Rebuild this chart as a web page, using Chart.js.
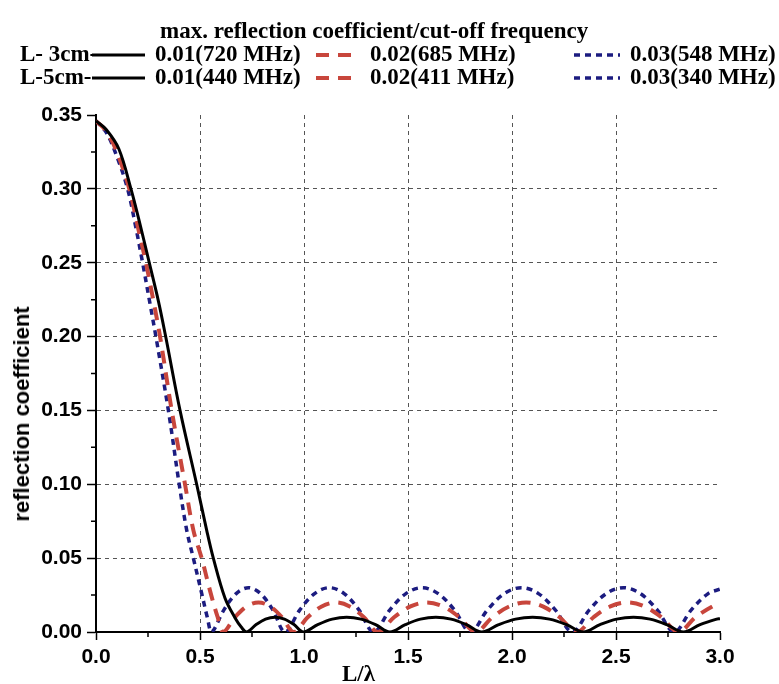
<!DOCTYPE html>
<html>
<head>
<meta charset="utf-8">
<script src="https://cdn.jsdelivr.net/npm/chart.js@4.4.1/dist/chart.umd.min.js"></script>
<style>
  body { margin: 0; background: #fff; }
  #wrap { position: relative; width: 779px; height: 684px; }
  #c { position: absolute; left: 0; top: 0; }
  .hd { position: absolute; font-family: "Liberation Serif", serif; font-weight: bold; font-size: 23px; color: #000; white-space: nowrap; line-height: 24px; }
  .smp { position: absolute; }
  #ytitle { position: absolute; font-family: "Liberation Sans", sans-serif; font-weight: bold; font-size: 22px; line-height: 24px; white-space: nowrap; color: #000;
    left: 22px; top: 414px; transform: translate(-50%, -50%) rotate(-90deg); }
</style>
</head>
<body>
<div id="wrap">
  <canvas id="c" width="779" height="684"></canvas>
</div>
<script>
// curve readings, L/lambda vs reflection coefficient
const solidX = [0, 0.05, 0.11, 0.168, 0.21, 0.256, 0.30, 0.335, 0.404, 0.484, 0.532, 0.564, 0.62, 0.668, 0.70, 0.724,
  0.770, 0.815, 0.861, 0.906, 0.952, 0.997,
  1.066, 1.136, 1.205, 1.274, 1.344, 1.413,
  1.487, 1.560, 1.634, 1.707, 1.781, 1.854,
  1.936, 2.017, 2.099, 2.180, 2.262, 2.343,
  2.423, 2.503, 2.584, 2.664, 2.744, 2.824,
  2.904, 2.984, 3.0];
const solidY = [0.346, 0.340, 0.327, 0.300, 0.277, 0.250, 0.224, 0.200, 0.150, 0.100, 0.069, 0.050, 0.023, 0.0097, 0.003, 0,
  0.005, 0.0087, 0.010, 0.0087, 0.005, 0,
  0.005, 0.0087, 0.010, 0.0087, 0.005, 0,
  0.005, 0.0087, 0.010, 0.0087, 0.005, 0,
  0.005, 0.0087, 0.010, 0.0087, 0.005, 0,
  0.005, 0.0087, 0.010, 0.0087, 0.005, 0,
  0.005, 0.0087, 0.009];

const dashX = [0, 0.05, 0.10, 0.16, 0.20, 0.24, 0.275, 0.308, 0.364, 0.428, 0.468, 0.508, 0.55, 0.585, 0.612,
  0.668, 0.725, 0.781, 0.837, 0.894, 0.950,
  1.018, 1.085, 1.153, 1.220, 1.288, 1.355,
  1.433, 1.512, 1.590, 1.668, 1.747, 1.825,
  1.906, 1.987, 2.068, 2.148, 2.229, 2.310,
  2.392, 2.473, 2.555, 2.637, 2.718, 2.800,
  2.882, 2.963, 3.0];
const dashY = [0.346, 0.339, 0.325, 0.300, 0.275, 0.250, 0.225, 0.200, 0.150, 0.100, 0.069, 0.050, 0.027, 0.010, 0,
  0.010, 0.0173, 0.020, 0.0173, 0.010, 0,
  0.010, 0.0173, 0.020, 0.0173, 0.010, 0,
  0.010, 0.0173, 0.020, 0.0173, 0.010, 0,
  0.010, 0.0173, 0.020, 0.0173, 0.010, 0,
  0.010, 0.0173, 0.020, 0.0173, 0.010, 0,
  0.010, 0.0173, 0.019];

const dotX = [0, 0.05, 0.10, 0.152, 0.19, 0.224, 0.26, 0.288, 0.348, 0.40, 0.436, 0.468, 0.51, 0.535, 0.556,
  0.615, 0.674, 0.733, 0.791, 0.850, 0.909,
  0.980, 1.051, 1.122, 1.193, 1.264, 1.335,
  1.413, 1.490, 1.568, 1.645, 1.723, 1.800,
  1.882, 1.963, 2.045, 2.127, 2.208, 2.290,
  2.372, 2.453, 2.535, 2.617, 2.698, 2.780,
  2.862, 2.943, 3.0];
const dotY = [0.346, 0.338, 0.322, 0.300, 0.275, 0.250, 0.222, 0.200, 0.150, 0.100, 0.069, 0.050, 0.025, 0.010, 0,
  0.015, 0.026, 0.030, 0.026, 0.015, 0,
  0.015, 0.026, 0.030, 0.026, 0.015, 0,
  0.015, 0.026, 0.030, 0.026, 0.015, 0,
  0.015, 0.026, 0.030, 0.026, 0.015, 0,
  0.015, 0.026, 0.030, 0.026, 0.015, 0,
  0.015, 0.026, 0.029];

const legendTitle = 'max. reflection coefficient/cut-off frequency';
const rowNames = ['L- 3cm-', 'L-5cm-'];
const labels3cm = ['0.01(720 MHz)', '0.02(685 MHz)', '0.03(548 MHz)'];
const labels5cm = ['0.01(440 MHz)', '0.02(411 MHz)', '0.03(340 MHz)'];
const yTitle = 'reflection coefficient';
const xTitle = 'L/\u03bb';
const xMax = 3.0, yMax = 0.35;

const black = '#000000', red = '#c8463c', blue = '#1c1c80';

function pts(xs, ys) {
  return xs.map((x, i) => ({ x: x, y: ys[i] }));
}

// header: title + two legend rows (html)
const wrap = document.getElementById('wrap');
function addText(txt, left, top) {
  const d = document.createElement('div');
  d.className = 'hd';
  d.textContent = txt;
  d.style.left = left + 'px';
  d.style.top = top + 'px';
  wrap.appendChild(d);
  return d;
}
function addSample(left, top, w, color, dash, lw) {
  const ns = 'http://www.w3.org/2000/svg';
  const s = document.createElementNS(ns, 'svg');
  s.setAttribute('width', w);
  s.setAttribute('height', 10);
  s.setAttribute('class', 'smp');
  s.style.left = left + 'px';
  s.style.top = (top - 5) + 'px';
  const l = document.createElementNS(ns, 'line');
  l.setAttribute('x1', 0); l.setAttribute('y1', 5);
  l.setAttribute('x2', w); l.setAttribute('y2', 5);
  l.setAttribute('stroke', color);
  l.setAttribute('stroke-width', lw);
  if (dash) l.setAttribute('stroke-dasharray', dash);
  s.appendChild(l);
  wrap.appendChild(s);
}
addText(legendTitle, 160, 19);
const styles = [[black, null, 3], [red, '13 9', 4], [blue, '6 5', 3.5]];
const smpLeft = [92, 316, 574], smpW = [53, 44, 46], txtLeft = [155, 370, 630];
[labels3cm, labels5cm].forEach((labs, r) => {
  const top = 42 + r * 23;
  addText(rowNames[r], 20, top);
  labs.forEach((t, i) => {
    addSample(smpLeft[i], top + 13, smpW[i], styles[i][0], styles[i][1], styles[i][2]);
    addText(t, txtLeft[i], top);
  });
});
addText(xTitle, 342, 662);
const yt = document.createElement('div');
yt.id = 'ytitle';
yt.textContent = yTitle;
wrap.appendChild(yt);

// small minor ticks between the labelled ones
const minorTicks = {
  id: 'minorTicks',
  afterDraw(chart) {
    const ctx = chart.ctx;
    const xs = chart.scales.x, ys = chart.scales.y;
    ctx.save();
    ctx.strokeStyle = '#000';
    ctx.lineWidth = 1.5;
    ctx.beginPath();
    for (let i = 0; i < xs.ticks.length - 1; i++) {
      const px = xs.getPixelForValue((xs.ticks[i].value + xs.ticks[i + 1].value) / 2);
      ctx.moveTo(px, xs.top); ctx.lineTo(px, xs.top + 5);
    }
    for (let i = 0; i < ys.ticks.length - 1; i++) {
      const py = ys.getPixelForValue((ys.ticks[i].value + ys.ticks[i + 1].value) / 2);
      ctx.moveTo(ys.right - 5, py); ctx.lineTo(ys.right, py);
    }
    ctx.stroke();
    ctx.restore();
  }
};

const gridColor = (max) => (c) => (c.tick.value <= 0 || c.tick.value >= max - 1e-9) ? 'rgba(0,0,0,0)' : '#555';
const tickFont = { family: 'Liberation Sans', weight: 'bold', size: 21 };

new Chart(document.getElementById('c'), {
  type: 'line',
  data: {
    datasets: [
      { data: pts(solidX, solidY), borderColor: black, borderWidth: 3 },
      { data: pts(dashX, dashY), borderColor: red, borderWidth: 4, borderDash: [13, 9] },
      { data: pts(dotX, dotY), borderColor: blue, borderWidth: 3.5, borderDash: [6, 5] }
    ]
  },
  options: {
    responsive: false,
    animation: false,
    devicePixelRatio: 1,
    layout: { padding: { top: 115, right: 59, left: 0, bottom: 0 } },
    elements: { point: { radius: 0 }, line: { tension: 0.35, fill: false } },
    plugins: { legend: { display: false }, tooltip: { enabled: false } },
    scales: {
      x: {
        type: 'linear', min: 0, max: xMax,
        ticks: { stepSize: 0.5, color: '#000', font: tickFont, padding: 5, maxRotation: 0,
          callback: (v) => v.toFixed(1) },
        grid: { color: gridColor(xMax), lineWidth: 1, tickColor: '#000', tickWidth: 1.5, tickLength: 8, tickBorderDash: [] },
        border: { color: '#000', width: 2, dash: [4, 4] },
        afterFit: (s) => { s.height = 52; }
      },
      y: {
        min: 0, max: yMax,
        ticks: { stepSize: 0.05, color: '#000', font: tickFont, padding: 5,
          callback: (v) => v.toFixed(2) },
        grid: { color: gridColor(yMax), lineWidth: 1, tickColor: '#000', tickWidth: 1.5, tickLength: 9, tickBorderDash: [] },
        border: { color: '#000', width: 2, dash: [4, 4] },
        afterFit: (s) => { s.width = 96; }
      }
    }
  },
  plugins: [minorTicks]
});
</script>
</body>
</html>
